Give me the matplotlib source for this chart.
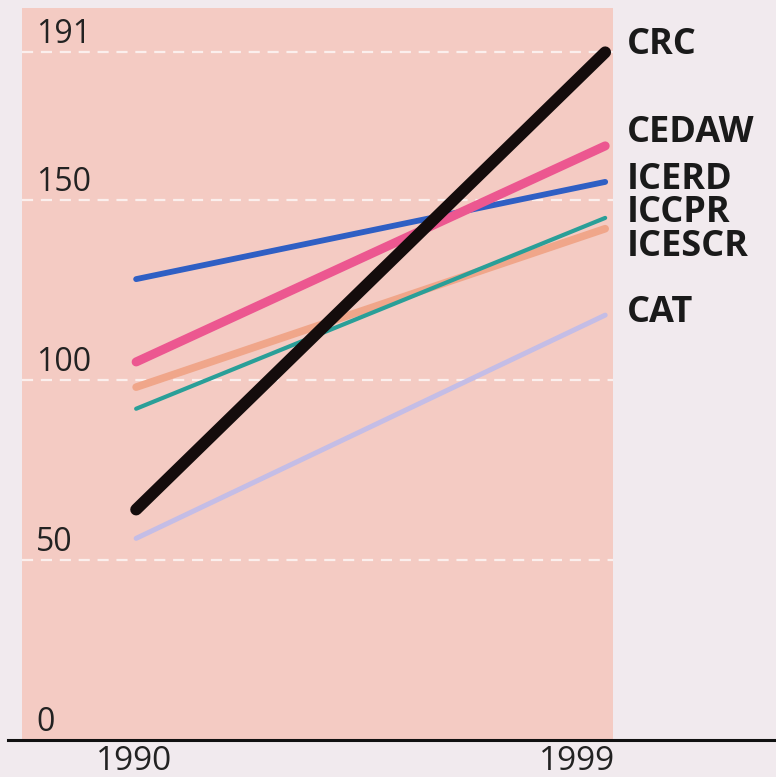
import matplotlib
matplotlib.use("Agg")
import matplotlib.pyplot as plt
from matplotlib.lines import Line2D
from matplotlib.transforms import offset_copy

# ratifications of the main human rights treaties
years = [1990, 1999]
treaties = ["CAT", "ICESCR", "ICCPR", "ICERD", "CEDAW", "CRC"]
ratif_1990 = [56, 98, 92, 128, 105, 64]
ratif_1999 = [118, 142, 145, 155, 165, 191]
yticks = [0, 50, 100, 150, 191]

colores = {
    "CAT": "#c4bde6",
    "ICESCR": "#f0a68a",
    "ICCPR": "#2a9f98",
    "ICERD": "#2f5fc4",
    "CEDAW": "#ec5790",
    "CRC": "#140c0c",
}
grosores = {"CAT": 3.6, "ICESCR": 5.5, "ICCPR": 3.0, "ICERD": 4.2, "CEDAW": 6.5, "CRC": 8.5}
# label heights, spread so they don't overlap
pos_etiqueta = {"CRC": 193, "CEDAW": 168.5, "ICERD": 155.5, "ICCPR": 146.3, "ICESCR": 137, "CAT": 118.5}

plt.rcParams["font.family"] = ["Open Sans", "DejaVu Sans"]

fig = plt.figure(figsize=(7.76, 7.77), dpi=100, facecolor="#f1eaee")
ax = fig.add_axes([22 / 776, 37 / 777, 591 / 776, 732 / 777])
ax.set_facecolor("#f4cbc3")
ax.set_xlim(1987.81, 1999.15)
ax.set_ylim(0, 203.3)
for lado in ax.spines.values():
    lado.set_visible(False)
ax.set_xticks([])
ax.set_yticks([])

for y in yticks[1:]:
    ax.axhline(y, color="white", lw=1.6, ls=(0, (5, 3.5)), alpha=0.7, zorder=1)

trans_lbl = offset_copy(ax.get_yaxis_transform(), fig=fig, x=0, y=9, units="dots")
for y in yticks:
    ax.text(0.024, y, str(y), transform=trans_lbl, ha="left", va="baseline",
            fontsize=23, color="#222222")

for nombre, v0, v1 in zip(treaties, ratif_1990, ratif_1999):
    ax.plot(years, [v0, v1], color=colores[nombre], lw=grosores[nombre],
            solid_capstyle="round", zorder=3)
    ax.text(1999.42, pos_etiqueta[nombre], nombre, ha="left", va="center",
            fontsize=26, fontweight="bold", color="#1a1a1a", clip_on=False)

# baseline running past the panel
fig.add_artist(Line2D([8 / 776, 1.0], [37 / 777, 37 / 777], color="#111111", lw=2.2))

fig.text(134 / 776, 16 / 777, "1990", ha="center", va="center", fontsize=24, color="#222222")
fig.text(577 / 776, 16 / 777, "1999", ha="center", va="center", fontsize=24, color="#222222")

fig.savefig("out.png", dpi=100, facecolor=fig.get_facecolor())
